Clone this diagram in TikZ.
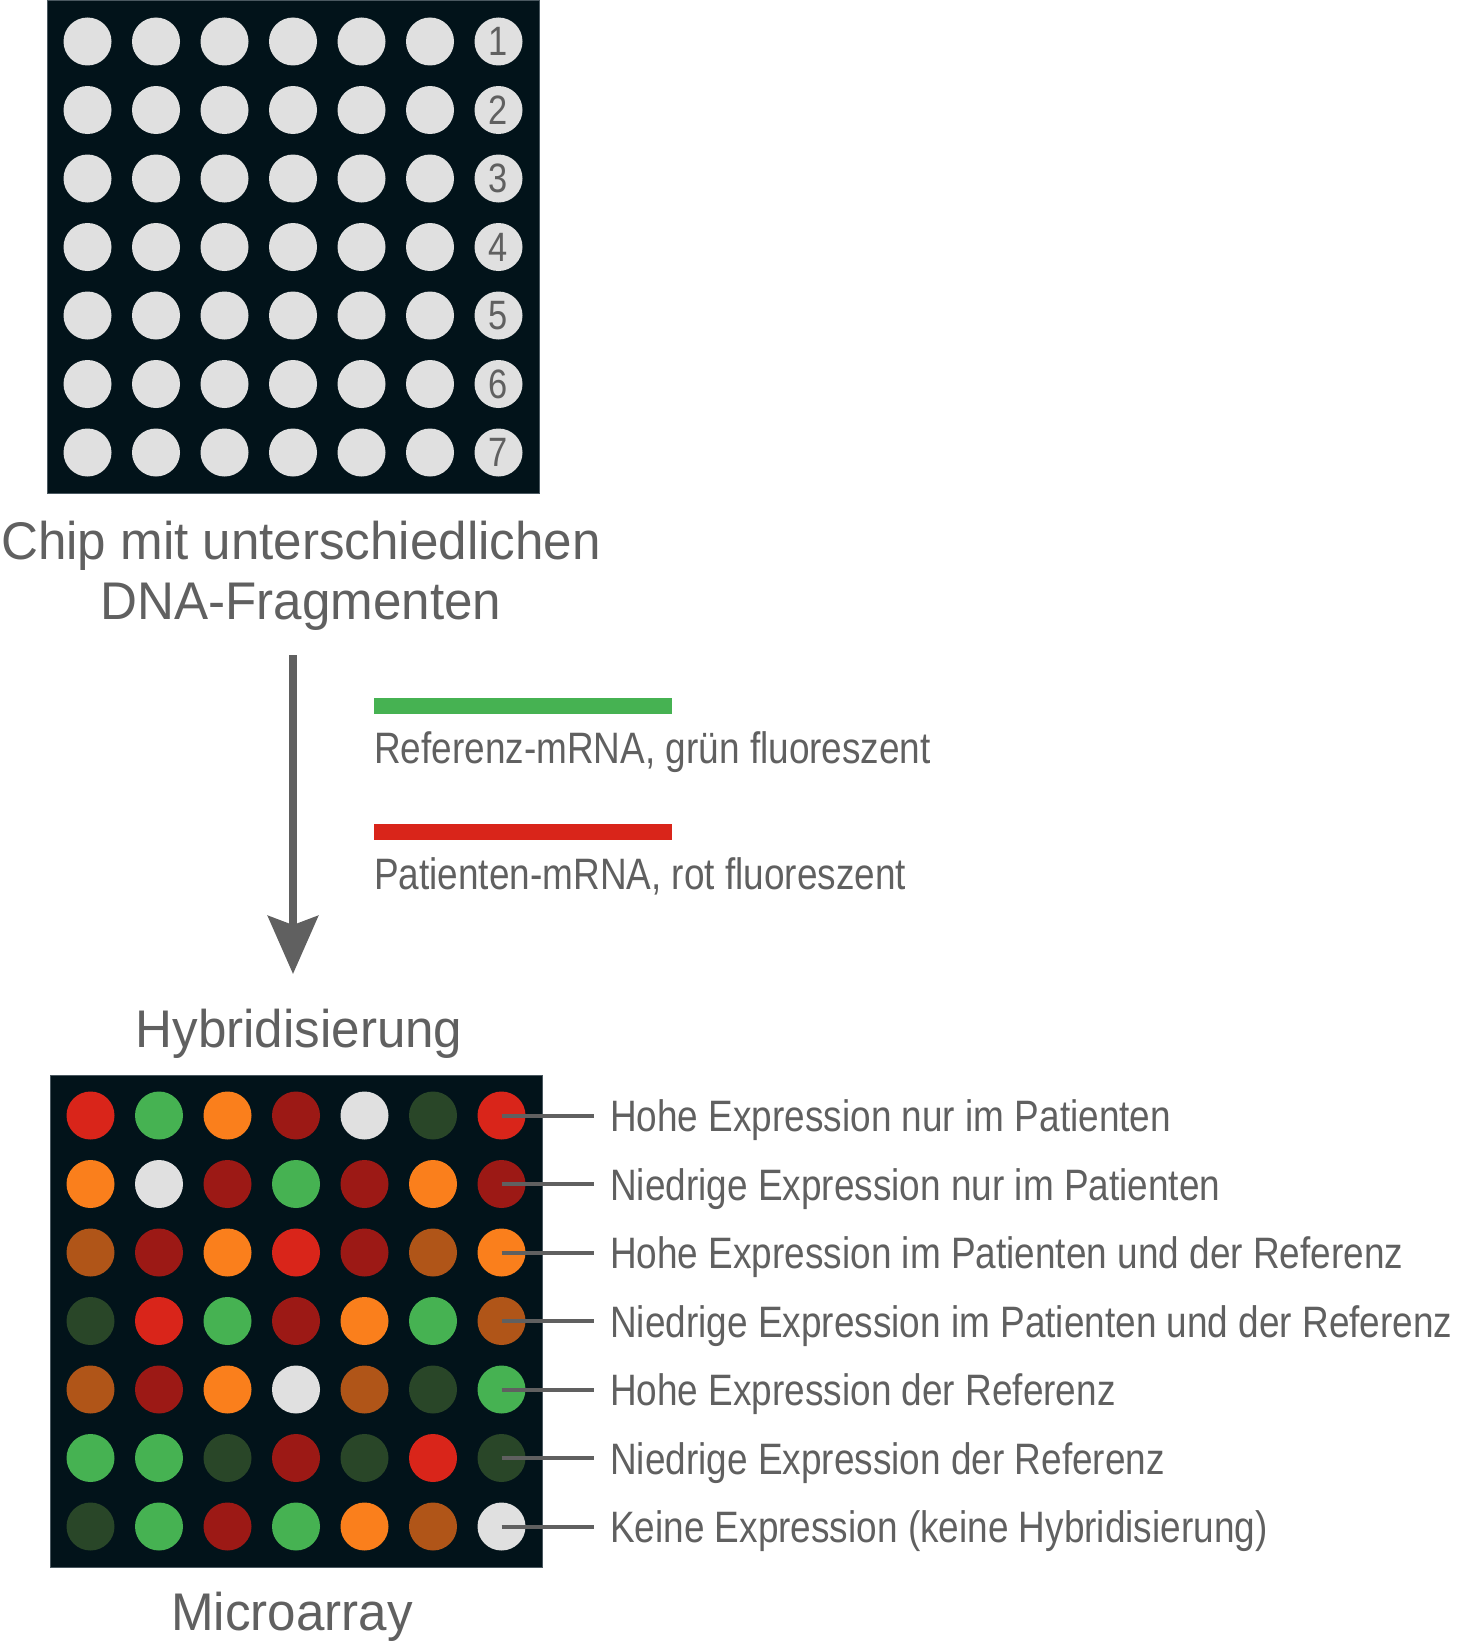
\documentclass[tikz,border=0pt]{standalone}
\usepackage{fontspec}
\setmainfont{Liberation Sans}
\newfontfamily\titlefont[FakeStretch=0.965]{Liberation Sans}
\newfontfamily\labfont[FakeStretch=0.84]{Liberation Sans}
\usetikzlibrary{arrows.meta}

\definecolor{chipbg}{HTML}{02131A}
\definecolor{chipedge}{HTML}{4A5860}
\definecolor{txt}{HTML}{606060}
\definecolor{spot}{HTML}{E0E0E0}
\definecolor{rd}{HTML}{D9251A}
\definecolor{gn}{HTML}{46B252}
\definecolor{og}{HTML}{FA7F1C}
\definecolor{dr}{HTML}{9C1915}
\definecolor{dg}{HTML}{294628}
\definecolor{br}{HTML}{B05518}

\tikzset{
  dot/.style={circle, minimum size=48pt, inner sep=0pt},
  title/.style={text=txt, font=\titlefont\fontsize{53}{60}\selectfont, inner sep=0pt},
  lab/.style={text=txt, font=\labfont\fontsize{44}{50}\selectfont, inner sep=0pt},
  num/.style={text=txt, font=\labfont\fontsize{41}{41}\selectfont, inner sep=0pt},
}

\begin{document}
\begin{tikzpicture}[x=1pt, y=-1pt]
        \useasboundingbox (0,0) rectangle (1459,1646);

        % chip
        \draw[fill=chipbg, draw=chipedge, line width=1pt] (47,1) rectangle (539,493);
        \foreach \r in {1,...,7}
          \foreach \c in {1,...,7}
            \node[dot, fill=spot] (c-\r-\c) at ({293+(\c-4)*68.5},{247+(\r-4)*68.5}) {};
        \foreach \r in {1,...,7}
          \node[num] at (c-\r-7) {\r};

        \node[title, anchor=base] (chip1) at (301,559) {Chip mit unterschiedlichen};
        \node[title, anchor=base] (chip2) at (301,619) {DNA-Fragmenten};

        % hybridisation
        \coordinate (a0) at (293,655);
        \coordinate (a1) at (293,974);
        \draw[txt, line width=8pt, -{Stealth[length=58pt, width=50pt, inset=9pt]}] (a0) -- (a1);

        \fill[gn] (374,698) rectangle (672,714);
        \node[lab, anchor=base west] (ref) at (374,763) {Referenz-mRNA, grün fluoreszent};
        \fill[rd] (374,824) rectangle (672,840);
        \node[lab, anchor=base west] (pat) at (374,889) {Patienten-mRNA, rot fluoreszent};

        \node[title, anchor=base] (hyb) at (299,1047) {Hybridisierung};

        % microarray
        \draw[fill=chipbg, draw=chipedge, line width=1pt] (50,1075) rectangle (542,1567);
        \foreach \row [count=\r] in {{rd,gn,og,dr,spot,dg,rd},{og,spot,dr,gn,dr,og,dr},
            {br,dr,og,rd,dr,br,og},{dg,rd,gn,dr,og,gn,br},{br,dr,og,spot,br,dg,gn},
            {gn,gn,dg,dr,dg,rd,dg},{dg,gn,dr,gn,og,br,spot}}
          \foreach \col [count=\c] in \row
            \node[dot, fill=\col] (m-\r-\c) at ({296+(\c-4)*68.5},{1321+(\r-4)*68.5}) {};

        \foreach \t [count=\r] in {Hohe Expression nur im Patienten,
            Niedrige Expression nur im Patienten,
            Hohe Expression im Patienten und der Referenz,
            Niedrige Expression im Patienten und der Referenz,
            Hohe Expression der Referenz,
            Niedrige Expression der Referenz,
            Keine Expression (keine Hybridisierung)}
          {
            \node[lab, anchor=base west, inner xsep=16pt] (l-\r) at (594,{1337+(\r-4)*68.5}) {\t};
            \draw[txt, line width=4pt] (m-\r-7.center) -- (m-\r-7.center -| l-\r.west);
          }

        \node[title, anchor=base] (micro) at (292,1630) {Microarray};
      \end{tikzpicture}
\end{document}
